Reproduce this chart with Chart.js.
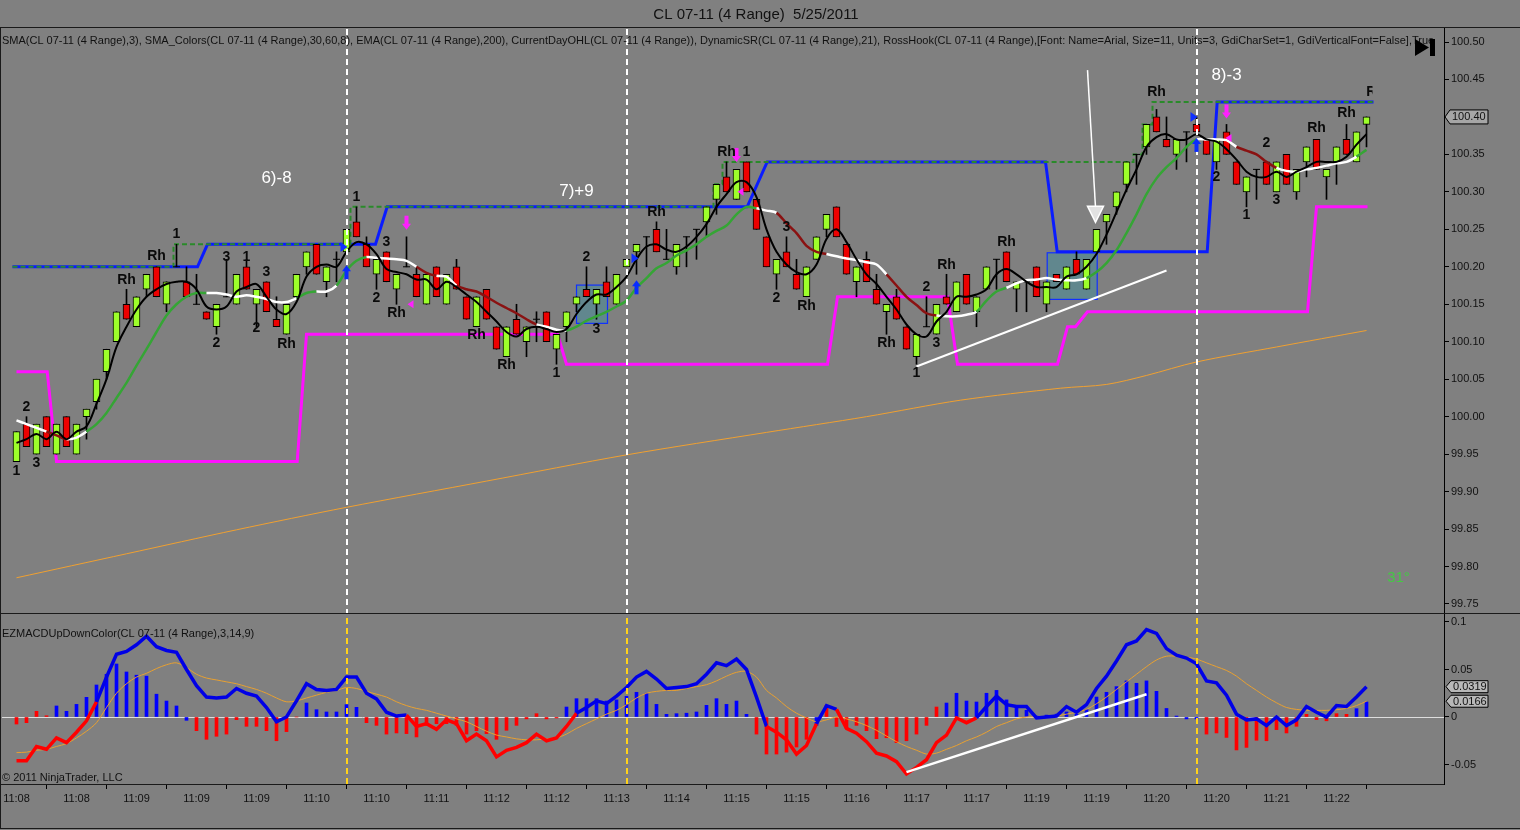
<!DOCTYPE html>
<html><head><meta charset="utf-8">
<script src="https://cdn.jsdelivr.net/npm/chart.js@4.4.0/dist/chart.umd.min.js"></script>
<style>
html,body{margin:0;padding:0;background:#808080;width:1520px;height:830px;overflow:hidden}
canvas{position:absolute;left:0;top:0}
</style></head><body>
<canvas id="p" width="1520" height="830"></canvas>
<canvas id="m" width="1520" height="830"></canvas>
<script>
// ---------------- DATA ----------------
const opens = [99.94,99.99,99.95,100.00,99.95,100.00,99.95,100.00,100.02,100.06,
100.10,100.15,100.12,100.17,100.20,100.15,100.20,100.18,100.15,100.14,
100.12,100.16,100.15,100.20,100.15,100.18,100.13,100.11,100.16,100.20,
100.23,100.18,100.21,100.22,100.26,100.23,100.19,100.22,100.17,100.20,
100.19,100.15,100.20,100.15,100.20,100.16,100.12,100.17,100.12,100.08,
100.13,100.10,100.13,100.14,100.09,100.12,100.15,100.17,100.15,100.18,
100.15,100.20,100.22,100.24,100.25,100.21,100.20,100.24,100.25,100.26,
100.29,100.32,100.29,100.34,100.29,100.24,100.19,100.22,100.19,100.16,
100.21,100.25,100.28,100.23,100.18,100.21,100.17,100.14,100.16,100.12,
100.08,100.12,100.11,100.16,100.14,100.19,100.14,100.17,100.21,100.22,
100.17,100.18,100.20,100.15,100.19,100.17,100.21,100.17,100.22,100.26,
100.28,100.31,100.35,100.36,100.40,100.37,100.35,100.38,100.39,100.37,
100.34,100.38,100.34,100.30,100.33,100.34,100.30,100.35,100.30,100.34,
100.37,100.32,100.34,100.37,100.34,100.39];
const highs = [99.98,100.00,99.99,100.00,99.99,100.00,99.99,100.01,100.05,100.09,
100.14,100.17,100.16,100.19,100.20,100.18,100.23,100.20,100.19,100.14,
100.15,100.21,100.19,100.21,100.17,100.18,100.16,100.15,100.19,100.22,
100.23,100.20,100.22,100.25,100.28,100.24,100.21,100.22,100.19,100.24,
100.20,100.19,100.20,100.19,100.21,100.16,100.16,100.17,100.12,100.12,
100.15,100.12,100.14,100.14,100.11,100.14,100.16,100.20,100.17,100.20,
100.19,100.21,100.23,100.24,100.26,100.25,100.23,100.24,100.25,100.28,
100.31,100.34,100.33,100.34,100.29,100.24,100.21,100.24,100.21,100.20,
100.24,100.27,100.28,100.23,100.20,100.22,100.19,100.15,100.17,100.12,
100.11,100.16,100.15,100.19,100.18,100.19,100.16,100.20,100.21,100.22,
100.18,100.18,100.20,100.18,100.19,100.20,100.22,100.21,100.25,100.27,
100.30,100.34,100.35,100.39,100.41,100.40,100.37,100.38,100.40,100.37,
100.37,100.39,100.34,100.32,100.33,100.34,100.34,100.35,100.33,100.36,
100.37,100.33,100.36,100.39,100.38,100.40];
const lows = [99.94,99.96,99.95,99.96,99.95,99.96,99.95,99.97,100.01,100.05,
100.10,100.13,100.12,100.16,100.16,100.14,100.20,100.16,100.15,100.13,
100.11,100.16,100.15,100.17,100.12,100.14,100.12,100.11,100.16,100.19,
100.19,100.16,100.18,100.22,100.24,100.20,100.17,100.18,100.15,100.20,
100.16,100.15,100.16,100.15,100.17,100.13,100.12,100.13,100.09,100.08,
100.11,100.08,100.10,100.10,100.07,100.10,100.14,100.16,100.13,100.16,
100.15,100.20,100.19,100.20,100.22,100.21,100.19,100.20,100.21,100.24,
100.27,100.30,100.29,100.30,100.25,100.20,100.17,100.20,100.17,100.16,
100.21,100.24,100.24,100.19,100.16,100.18,100.15,100.11,100.13,100.09,
100.07,100.12,100.11,100.15,100.14,100.15,100.12,100.17,100.17,100.18,
100.14,100.14,100.16,100.14,100.18,100.17,100.19,100.17,100.22,100.23,
100.27,100.30,100.31,100.35,100.38,100.36,100.33,100.34,100.38,100.35,
100.33,100.35,100.31,100.28,100.29,100.31,100.30,100.31,100.29,100.32,
100.33,100.29,100.31,100.35,100.34,100.36];
const closes = [99.98,99.96,99.99,99.96,99.99,99.96,99.99,100.01,100.05,100.09,
100.14,100.13,100.16,100.19,100.16,100.18,100.20,100.16,100.15,100.13,
100.15,100.16,100.19,100.17,100.17,100.14,100.12,100.15,100.19,100.22,
100.19,100.20,100.21,100.25,100.24,100.20,100.21,100.18,100.19,100.20,
100.16,100.19,100.16,100.19,100.17,100.13,100.16,100.13,100.09,100.12,
100.11,100.12,100.13,100.10,100.11,100.14,100.16,100.16,100.17,100.16,
100.19,100.21,100.23,100.24,100.22,100.21,100.23,100.24,100.25,100.28,
100.31,100.30,100.33,100.30,100.25,100.20,100.21,100.20,100.17,100.20,
100.24,100.27,100.24,100.19,100.20,100.18,100.15,100.15,100.13,100.09,
100.11,100.12,100.15,100.15,100.18,100.15,100.16,100.20,100.21,100.18,
100.18,100.18,100.16,100.18,100.18,100.20,100.19,100.21,100.25,100.27,
100.30,100.34,100.35,100.39,100.38,100.36,100.37,100.38,100.38,100.35,
100.37,100.35,100.31,100.32,100.33,100.31,100.34,100.31,100.33,100.36,
100.33,100.33,100.36,100.35,100.38,100.40];
// SMA(3) black line
const sma3 = [99.965,99.97,99.977,99.97,99.98,99.97,99.98,99.987,100.017,100.05,
100.093,100.12,100.143,100.16,100.17,100.177,100.18,100.18,100.17,100.147,
100.143,100.147,100.167,100.173,100.177,100.16,100.143,100.137,100.153,100.187,
100.20,100.203,100.20,100.22,100.233,100.23,100.217,100.197,100.193,100.19,
100.183,100.183,100.17,100.18,100.173,100.163,100.153,100.14,100.127,100.113,
100.107,100.117,100.12,100.117,100.113,100.117,100.137,100.153,100.163,100.163,
100.173,100.187,100.21,100.227,100.23,100.223,100.22,100.227,100.24,100.257,
100.28,100.297,100.313,100.313,100.293,100.25,100.22,100.203,100.193,100.19,
100.203,100.237,100.25,100.233,100.21,100.19,100.177,100.16,100.143,100.123,
100.11,100.107,100.127,100.14,100.16,100.16,100.163,100.17,100.19,100.197,
100.19,100.18,100.173,100.173,100.173,100.187,100.19,100.20,100.217,100.243,
100.273,100.303,100.33,100.36,100.373,100.377,100.37,100.37,100.377,100.37,
100.367,100.357,100.343,100.327,100.32,100.32,100.327,100.32,100.327,100.333,
100.34,100.34,100.34,100.347,100.363,100.377];
// SMA_Colors line
const smaColors = [99.995,99.99,99.985,99.98,99.975,99.97,99.972,99.98,99.99,100.005,
100.025,100.045,100.068,100.09,100.113,100.135,100.15,100.16,100.165,100.165,
100.165,100.163,100.16,100.162,100.16,100.157,100.153,100.153,100.158,100.165,
100.167,100.167,100.175,100.195,100.208,100.213,100.212,100.211,100.21,100.208,
100.2,100.192,100.188,100.187,100.175,100.17,100.167,100.16,100.152,100.145,
100.138,100.13,100.123,100.12,100.116,100.115,100.12,100.128,100.134,100.14,
100.147,100.155,100.172,100.185,100.198,100.205,100.215,100.222,100.23,100.24,
100.248,100.255,100.27,100.28,100.278,100.275,100.272,100.258,100.245,100.228,
100.22,100.217,100.214,100.211,100.209,100.206,100.203,100.19,100.175,100.16,
100.149,100.138,100.135,100.134,100.134,100.136,100.14,100.155,100.167,100.172,
100.178,100.182,100.183,100.185,100.183,100.182,100.182,100.185,100.193,100.205,
100.222,100.245,100.27,100.297,100.318,100.333,100.345,100.36,100.37,100.37,
100.37,100.369,100.36,100.355,100.35,100.34,100.332,100.328,100.327,100.33,
100.332,100.335,100.338,100.34,100.347,100.356];
const smaColorRuns = [['w',3],['r',2],['w',2],['g',12],['w',9],['g',2],['w',2],['g',3],['w',5],['r',2],['w',2],['r',8],['w',3],['g',19],['w',2],['r',5],['w',6],['r',5],['w',4],['g',3],['w',8],['g',11],['w',4],['r',4],['w',8],['g',2]];
// EMA(200)
const emaBars = [0,11,22,33,47,61,75,85,94.4,104.4,109,113,118,126,135];
const emaVals = [99.785,99.817,99.849,99.879,99.914,99.949,99.979,100.00,100.022,100.038,100.043,100.055,100.073,100.093,100.115];
// DynamicSR resistance (blue) / support (magenta)
const resBars = [-0.4,18.1,19.1,35.9,37.07,73.07,75.07,102.9,104.07,119.07,120.07,135.7];
const resVals = [100.20,100.20,100.23,100.23,100.28,100.28,100.34,100.34,100.22,100.22,100.42,100.42];
const supBars = [0,3.07,4.0,28.07,29.0,54.1,55.0,81.1,82.1,93.1,94.1,104.1,105.1,105.9,107.1,129.1,130.0,135.1];
const supVals = [100.06,100.06,99.94,99.94,100.11,100.11,100.07,100.07,100.16,100.16,100.07,100.07,100.12,100.12,100.14,100.14,100.28,100.28];
// CurrentDayOHL high (dashed green, stepped)
const dayHighBars = [-0.4,15.7,33.4,69.7,70.6,111.7,112.6,113.6,135.7];
const dayHighVals = [100.20,100.23,100.28,100.31,100.34,100.35,100.39,100.42,100.42];
// RossHook labels [bar, price, text]
const hookLabels = [[1,100.013,'2'],[0,99.927,'1'],[2,99.938,'3'],[11,100.182,'Rh'],[14,100.214,'Rh'],[16,100.244,'1'],
[21,100.213,'3'],[23,100.213,'1'],[25,100.193,'3'],[20,100.098,'2'],[24,100.118,'2'],[27,100.097,'Rh'],
[34,100.293,'1'],[37,100.233,'3'],[36,100.158,'2'],[38,100.138,'Rh'],[46,100.109,'Rh'],[49,100.069,'Rh'],[54,100.058,'1'],
[57,100.213,'2'],[58,100.117,'3'],[64,100.273,'Rh'],[71,100.353,'Rh'],[73,100.353,'1'],[77,100.253,'3'],[76,100.158,'2'],
[79,100.148,'Rh'],[87,100.098,'Rh'],[91,100.173,'2'],[90,100.058,'1'],[92,100.098,'3'],[93,100.202,'Rh'],[99,100.233,'Rh'],
[114,100.433,'Rh'],[120,100.32,'2'],[123,100.269,'1'],[125,100.365,'2'],[126,100.289,'3'],[130,100.385,'Rh'],[133,100.405,'Rh'],[135.9,100.433,'Rh']];
const labelClipBar = 135.6;
const tradeNotes = [[26,100.318,'6)-8'],[56,100.301,'7)+9'],[121,100.456,'8)-3']];
const upArrowsBlue = [[33,100.202],[62,100.182],[118,100.372]];
const downArrowsMag = [[39,100.2495],[72,100.34],[121,100.398]];
const smallMagMarks = [[39.4,100.15],[72.4,100.30],[121.2,100.372]];
const smallBlueMarks = [[61.8,100.2115],[117.7,100.40],[32.7,100.2265]];
const hookBoxes = [[56.0,59.1,100.1756,100.1245],[103.07,108.07,100.2187,100.1565]];
const sessionBars = [33,61,118];
const priceTrend = [[90,100.067],[115,100.195]];
const bigArrow = [[107.1,100.4625],[107.9,100.2594]];
const angleNote = [138.2,99.7845,'31°'];
const priceTicks = [100.50,100.45,100.40,100.35,100.30,100.25,100.20,100.15,100.10,100.05,100.00,99.95,99.90,99.85,99.80,99.75];
// MACD panel
const macd = [-0.046,-0.046,-0.031,-0.034,-0.022,-0.027,-0.016,-0.004,0.016,0.042,
0.066,0.069,0.076,0.085,0.074,0.070,0.068,0.050,0.033,0.021,
0.020,0.021,0.030,0.025,0.022,0.010,-0.005,0.000,0.017,0.035,
0.029,0.028,0.029,0.042,0.042,0.025,0.019,0.005,0.001,0.002,
-0.010,-0.007,-0.013,-0.003,-0.007,-0.025,-0.018,-0.025,-0.042,-0.035,
-0.032,-0.027,-0.018,-0.025,-0.022,-0.010,0.004,0.010,0.017,0.014,
0.022,0.031,0.042,0.048,0.040,0.030,0.031,0.032,0.035,0.045,
0.057,0.054,0.061,0.050,0.021,-0.010,-0.016,-0.024,-0.039,-0.030,
-0.007,0.012,0.008,-0.012,-0.017,-0.026,-0.038,-0.041,-0.047,-0.060,
-0.053,-0.045,-0.027,-0.019,-0.001,-0.006,-0.001,0.011,0.022,0.013,
0.011,0.011,-0.001,0.000,0.001,0.011,0.005,0.013,0.030,0.043,
0.059,0.076,0.080,0.092,0.088,0.072,0.065,0.062,0.056,0.038,
0.036,0.023,0.003,-0.003,-0.002,-0.009,0.000,-0.009,-0.003,0.011,
0.005,0.000,0.012,0.011,0.021,0.0319];
const signal = [-0.0375,-0.037,-0.035,-0.034,-0.031,-0.028,-0.022,-0.015,-0.006,0.010,
0.025,0.035,0.042,0.046,0.051,0.055,0.057,0.052,0.045,0.041,
0.039,0.037,0.035,0.032,0.029,0.025,0.020,0.016,0.017,0.020,
0.023,0.026,0.028,0.031,0.030,0.027,0.024,0.021,0.016,0.012,
0.009,0.007,0.004,0.001,-0.002,-0.005,-0.010,-0.015,-0.019,-0.021,
-0.023,-0.024,-0.024,-0.023,-0.022,-0.018,-0.012,-0.007,-0.002,0.003,
0.007,0.013,0.020,0.025,0.027,0.028,0.028,0.030,0.032,0.034,
0.038,0.043,0.047,0.048,0.042,0.028,0.020,0.011,0.004,-0.001,
-0.005,-0.003,0.000,-0.002,-0.005,-0.009,-0.014,-0.020,-0.026,-0.031,
-0.035,-0.039,-0.038,-0.034,-0.030,-0.025,-0.021,-0.016,-0.010,-0.006,
-0.002,0.000,0.000,0.000,0.001,0.003,0.005,0.008,0.014,0.021,
0.029,0.037,0.045,0.053,0.060,0.064,0.064,0.063,0.061,0.057,
0.053,0.049,0.043,0.035,0.028,0.021,0.015,0.010,0.008,0.007,
0.007,0.007,0.0077,0.009,0.012,0.0166];
const hist = [-0.0074,-0.006,0.006,0.0013,0.0116,0.006,0.0133,0.0207,0.0337,0.045,
0.0558,0.0474,0.044,0.043,0.024,0.0168,0.0116,-0.0035,-0.0144,-0.0235,
-0.0203,-0.018,-0.0028,-0.0098,-0.0098,-0.0144,-0.025,-0.0154,0,0.0147,
0.0077,0.0053,0.0053,0.013,0.0102,-0.006,-0.0088,-0.018,-0.0168,-0.0175,
-0.021,-0.0088,-0.007,-0.007,-0.0088,-0.018,-0.0144,-0.0175,-0.0235,-0.014,
-0.0088,-0.002,0.0035,-0.002,-0.001,0.0105,0.0193,0.0193,0.0193,0.0168,
0.018,0.0218,0.026,0.025,0.0133,0.0028,0.0035,0.004,0.0053,0.0123,
0.0193,0.0133,0.0168,0.0028,-0.018,-0.039,-0.039,-0.037,-0.0316,-0.0235,
-0.0088,0.0123,-0.010,-0.012,-0.0088,-0.0144,-0.0228,-0.0218,-0.027,-0.025,
-0.018,-0.0088,0.0105,0.0147,0.025,0.0168,0.0158,0.025,0.028,0.018,
0.0123,0.007,0.001,0.002,0.003,0.0053,0.003,0.0081,0.021,0.026,
0.032,0.038,0.0355,0.038,0.027,0.009,0.001,-0.002,-0.002,-0.018,
-0.0168,-0.0215,-0.0347,-0.032,-0.0245,-0.025,-0.0133,-0.0168,-0.0098,0.0028,
-0.0028,-0.004,0.0035,0.0028,0.0088,0.0158];
const macdColorRuns = [['r',8],['b',31],['r',17],['b',19],['r',5],['b',2],['r',14],['b',40]];
const histColorRuns = [['r',4],['b',14],['r',11],['b',6],['r',20],['b',19],['r',6],['b',1],['r',12],['b',26],['r',15],['b',2]];
const macdTrend = [[89,-0.058],[113,0.024]];
const macdTicks = [0.1,0.05,0,-0.05];
const xTickBars = [0,6,12,18,24,30,36,42,48,54,60,66,72,78,84,90,96,102,108,114,120,126,132];
const timeLabels = ['11:08','11:08','11:09','11:09','11:09','11:10','11:10','11:11','11:12','11:12','11:13','11:14','11:15','11:15','11:16','11:17','11:17','11:19','11:19','11:20','11:20','11:21','11:22'];

// ---------------- STYLE ----------------
const FONT = '"Liberation Sans", Arial, sans-serif';
Chart.defaults.font.family = FONT;
const UP = '#9dff2a', DN = '#ee0000';
const lineCol = {w:'#ffffff', r:'#8a1212', g:'#35a535', b:'#0000e6'};
const expand = runs => runs.map(([c,n]) => c.repeat(n)).join('');
const smaCol = expand(smaColorRuns), macdCol = expand(macdColorRuns), histCol = expand(histColorRuns);
const N = closes.length;
const idx = Array.from({length:N}, (_, i) => i);
const pts = (xs, ys) => xs.map((x, i) => ({x, y: ys[i]}));
const X_MIN = -1.45, X_MAX = 142.75;

function padFix(s){ s.paddingLeft = 0; s.paddingRight = 0; s.paddingTop = 0; s.paddingBottom = 0; }

// ---------------- PRICE PANEL PLUGIN ----------------
const pricePlugin = {
  id: 'pricePlugin',
  beforeDatasetsDraw(chart) {
    const {ctx, scales:{x, y}} = chart;
    ctx.save();
    hookBoxes.forEach(([b0, b1, p0, p1]) => {
      const l = x.getPixelForValue(b0), r = x.getPixelForValue(b1);
      const t = y.getPixelForValue(p0), b = y.getPixelForValue(p1);
      ctx.fillStyle = 'rgba(40,150,170,0.35)';
      ctx.fillRect(l, t, r - l, b - t);
      ctx.strokeStyle = '#1030ff'; ctx.lineWidth = 1.2;
      ctx.strokeRect(l, t, r - l, b - t);
    });
    ctx.restore();
  },
  afterDatasetsDraw(chart) {
    const {ctx, chartArea, scales:{x, y}} = chart;
    ctx.save();
    // session separators
    ctx.strokeStyle = '#ffffff'; ctx.lineWidth = 2; ctx.setLineDash([6,4]);
    sessionBars.forEach(b => {
      const px = Math.round(x.getPixelForValue(b));
      ctx.beginPath(); ctx.moveTo(px, chartArea.top + 2); ctx.lineTo(px, chartArea.bottom); ctx.stroke();
    });
    ctx.setLineDash([]);
    // trend line
    ctx.strokeStyle = '#ffffff'; ctx.lineWidth = 2;
    ctx.beginPath();
    ctx.moveTo(x.getPixelForValue(priceTrend[0][0]), y.getPixelForValue(priceTrend[0][1]));
    ctx.lineTo(x.getPixelForValue(priceTrend[1][0]), y.getPixelForValue(priceTrend[1][1]));
    ctx.stroke();
    // big white arrow
    const ax0 = x.getPixelForValue(bigArrow[0][0]), ay0 = y.getPixelForValue(bigArrow[0][1]);
    const ax1 = x.getPixelForValue(bigArrow[1][0]), ay1 = y.getPixelForValue(bigArrow[1][1]);
    ctx.lineWidth = 1.5;
    ctx.beginPath(); ctx.moveTo(ax0, ay0); ctx.lineTo(ax1, ay1 - 15); ctx.stroke();
    ctx.beginPath(); ctx.moveTo(ax1 - 8, ay1 - 16); ctx.lineTo(ax1 + 8, ay1 - 16); ctx.lineTo(ax1, ay1); ctx.closePath();
    ctx.fillStyle = 'rgba(235,235,235,0.9)'; ctx.fill(); ctx.strokeStyle = '#ffffff'; ctx.stroke();
    // blue up arrows
    ctx.fillStyle = '#0a2cff';
    upArrowsBlue.forEach(([b, p]) => {
      const cx = x.getPixelForValue(b), ty = y.getPixelForValue(p);
      ctx.beginPath(); ctx.moveTo(cx, ty); ctx.lineTo(cx - 4.5, ty + 6); ctx.lineTo(cx + 4.5, ty + 6); ctx.closePath(); ctx.fill();
      ctx.fillRect(cx - 2, ty + 5, 4, 9);
    });
    // magenta down arrows
    ctx.fillStyle = '#ff20ff';
    downArrowsMag.forEach(([b, p]) => {
      const cx = x.getPixelForValue(b), by = y.getPixelForValue(p);
      ctx.beginPath(); ctx.moveTo(cx, by); ctx.lineTo(cx - 4.5, by - 6); ctx.lineTo(cx + 4.5, by - 6); ctx.closePath(); ctx.fill();
      ctx.fillRect(cx - 2, by - 14, 4, 9);
    });
    smallMagMarks.forEach(([b, p]) => {
      const cx = x.getPixelForValue(b), cy = y.getPixelForValue(p);
      ctx.beginPath(); ctx.moveTo(cx - 3, cy); ctx.lineTo(cx + 3, cy - 4); ctx.lineTo(cx + 3, cy + 4); ctx.closePath(); ctx.fill();
    });
    ctx.fillStyle = '#1030ff';
    smallBlueMarks.forEach(([b, p]) => {
      const cx = x.getPixelForValue(b), cy = y.getPixelForValue(p);
      ctx.beginPath(); ctx.moveTo(cx + 4, cy); ctx.lineTo(cx - 3, cy - 5); ctx.lineTo(cx - 3, cy + 5); ctx.closePath(); ctx.fill();
    });
    // hook labels (clipped at the last bar, as in the original)
    ctx.save();
    ctx.beginPath(); ctx.rect(chartArea.left, chartArea.top, x.getPixelForValue(labelClipBar) - chartArea.left, chartArea.bottom - chartArea.top); ctx.clip();
    ctx.fillStyle = '#0a0a0a'; ctx.font = 'bold 14px ' + FONT;
    ctx.textAlign = 'center'; ctx.textBaseline = 'middle';
    hookLabels.forEach(([b, p, t]) => ctx.fillText(t, x.getPixelForValue(b), y.getPixelForValue(p)));
    ctx.restore();
    // trade notes
    ctx.textAlign = 'center'; ctx.textBaseline = 'middle';
    ctx.fillStyle = '#ffffff'; ctx.font = '17px ' + FONT;
    tradeNotes.forEach(([b, p, t]) => ctx.fillText(t, x.getPixelForValue(b), y.getPixelForValue(p)));
    ctx.fillStyle = '#44c844'; ctx.font = '15px ' + FONT;
    ctx.fillText(angleNote[2], x.getPixelForValue(angleNote[0]), y.getPixelForValue(angleNote[1]));
    ctx.restore();
  },
  afterDraw(chart) {
    const {ctx, chartArea, scales:{y}} = chart;
    ctx.save();
    ctx.fillStyle = '#111'; ctx.textBaseline = 'alphabetic';
    ctx.font = '15px ' + FONT; ctx.textAlign = 'center';
    ctx.fillText('CL 07-11 (4 Range)  5/25/2011', 756, 19);
    ctx.font = '11px ' + FONT; ctx.textAlign = 'left';
    ctx.fillText('SMA(CL 07-11 (4 Range),3), SMA_Colors(CL 07-11 (4 Range),30,60,8), EMA(CL 07-11 (4 Range),200), CurrentDayOHL(CL 07-11 (4 Range)), DynamicSR(CL 07-11 (4 Range),21), RossHook(CL 07-11 (4 Range),[Font: Name=Arial, Size=11, Units=3, GdiCharSet=1, GdiVerticalFont=False],True', 2, 44, 1442);
    // play-to-end icon
    ctx.fillStyle = '#000';
    ctx.beginPath(); ctx.moveTo(1415, 39); ctx.lineTo(1415, 56); ctx.lineTo(1429, 47.5); ctx.closePath(); ctx.fill();
    ctx.fillRect(1430, 39, 5, 17);
    // last price marker
    const last = closes[N - 1], ly = y.getPixelForValue(last), r = chartArea.right;
    ctx.beginPath();
    ctx.moveTo(r + 1, ly); ctx.lineTo(r + 6, ly - 7); ctx.lineTo(r + 44, ly - 7); ctx.lineTo(r + 44, ly + 7); ctx.lineTo(r + 6, ly + 7); ctx.closePath();
    ctx.fillStyle = '#a6a6a6'; ctx.fill(); ctx.strokeStyle = '#000'; ctx.lineWidth = 1; ctx.stroke();
    ctx.fillStyle = '#111'; ctx.font = '11px ' + FONT; ctx.textBaseline = 'middle';
    ctx.fillText(last.toFixed(2), r + 8, ly + 0.5);
    ctx.restore();
  }
};

new Chart(document.getElementById('p'), {
  type: 'line',
  data: { datasets: [
    { type:'line', data: idx.map(i => ({x:i, y:sma3[i]})), borderColor:'#000', borderWidth:2, pointRadius:0, tension:0.35, order:1 },
    { type:'line', data: idx.map(i => ({x:i, y:smaColors[i]})), borderWidth:2.5, pointRadius:0, tension:0.3, order:2,
      segment:{ borderColor: c => lineCol[smaCol[c.p0DataIndex]] } , borderColor:'#fff'},
    { type:'line', data: idx.filter(i => opens[i] === closes[i]).map(i => ({x:i, y:opens[i]})), showLine:false,
      pointStyle:'line', pointRadius:3.5, borderColor:'#000', borderWidth:1, order:3 },
    { type:'bar', data: idx.map(i => ({x:i, y:[opens[i], closes[i]]})), barThickness:7, grouped:false,
      backgroundColor: idx.map(i => closes[i] > opens[i] ? UP : (closes[i] < opens[i] ? DN : 'rgba(0,0,0,0)')),
      borderColor:'#000', borderWidth:1, borderSkipped:false, order:4 },
    { type:'bar', data: idx.map(i => ({x:i, y:[lows[i], highs[i]]})), barThickness:1, grouped:false,
      backgroundColor:'#000', borderWidth:0, order:5 },
    { type:'line', data: pts(dayHighBars, dayHighVals), stepped:'before', borderColor:'#2a8a2a', borderWidth:2, borderDash:[5,3], pointRadius:0, order:6 },
    { type:'line', data: pts(resBars, resVals), borderColor:'#0a1cff', borderWidth:3, pointRadius:0, tension:0, order:7 },
    { type:'line', data: pts(supBars, supVals), borderColor:'#ff10ff', borderWidth:3, pointRadius:0, tension:0, order:8 },
    { type:'line', data: pts(emaBars, emaVals), borderColor:'#f0a030', borderWidth:1, pointRadius:0, tension:0.3, order:9 }
  ]},
  options: {
    responsive:false, animation:false, devicePixelRatio:1,
    layout:{ autoPadding:false, padding:{ left:2, right:0, top:27, bottom:216 } },
    plugins:{ legend:{display:false}, tooltip:{enabled:false} },
    scales:{
      x:{ type:'linear', min:X_MIN, max:X_MAX, display:false, offset:false },
      y:{ type:'linear', position:'right', min:99.73665, max:100.52002, beginAtZero:false,
          afterFit: s => { s.width = 76; padFix(s); },
          afterBuildTicks: s => { s.ticks = priceTicks.map(v => ({value:v})); },
          ticks:{ callback: v => Number(v).toFixed(2), color:'#111', font:{size:11}, padding:2, autoSkip:false },
          grid:{ drawOnChartArea:false, color:'#000', tickLength:5 },
          border:{ display:true, color:'#000' } }
    }
  },
  plugins:[pricePlugin]
});

// ---------------- MACD PANEL ----------------
const macdPlugin = {
  id:'macdPlugin',
  beforeDatasetsDraw(chart) {
    const {ctx, chartArea, scales:{y}} = chart;
    ctx.save();
    const zy = Math.round(y.getPixelForValue(0)) + 0.5;
    ctx.strokeStyle = '#dedede'; ctx.lineWidth = 1;
    ctx.beginPath(); ctx.moveTo(chartArea.left, zy); ctx.lineTo(chartArea.right, zy); ctx.stroke();
    ctx.restore();
  },
  afterDatasetsDraw(chart) {
    const {ctx, chartArea, scales:{x, y}} = chart;
    ctx.save();
    ctx.strokeStyle = '#ffd21a'; ctx.lineWidth = 2; ctx.setLineDash([6,4]);
    sessionBars.forEach(b => {
      const px = Math.round(x.getPixelForValue(b));
      ctx.beginPath(); ctx.moveTo(px, chartArea.top + 4); ctx.lineTo(px, chartArea.bottom); ctx.stroke();
    });
    ctx.setLineDash([]);
    ctx.strokeStyle = '#ffffff'; ctx.lineWidth = 2.5;
    ctx.beginPath();
    ctx.moveTo(x.getPixelForValue(macdTrend[0][0]), y.getPixelForValue(macdTrend[0][1]));
    ctx.lineTo(x.getPixelForValue(macdTrend[1][0]), y.getPixelForValue(macdTrend[1][1]));
    ctx.stroke();
    ctx.restore();
  },
  afterDraw(chart) {
    const {ctx, chartArea, scales:{y}} = chart;
    ctx.save();
    ctx.fillStyle = '#111'; ctx.font = '11px ' + FONT; ctx.textAlign = 'left'; ctx.textBaseline = 'alphabetic';
    ctx.fillText('EZMACDUpDownColor(CL 07-11 (4 Range),3,14,9)', 2, 637, 255);
    ctx.fillText('\u00A9 2011 NinjaTrader, LLC', 2, 781, 126);
    const r = chartArea.right;
    [macd[N - 1], signal[N - 1]].forEach(v => {
      const ly = y.getPixelForValue(v);
      ctx.beginPath();
      ctx.moveTo(r + 2, ly); ctx.lineTo(r + 7, ly - 6); ctx.lineTo(r + 44, ly - 6); ctx.lineTo(r + 44, ly + 6); ctx.lineTo(r + 7, ly + 6); ctx.closePath();
      ctx.fillStyle = '#b8b8b8'; ctx.fill(); ctx.strokeStyle = '#000'; ctx.lineWidth = 1; ctx.stroke();
      ctx.fillStyle = '#111'; ctx.textBaseline = 'middle';
      ctx.fillText(v.toFixed(4), r + 9, ly + 0.5);
    });
    // panel frame lines
    ctx.strokeStyle = '#1a1a1a'; ctx.lineWidth = 1;
    const h = (yy, x0, x1) => { ctx.beginPath(); ctx.moveTo(x0, yy); ctx.lineTo(x1, yy); ctx.stroke(); };
    h(27.5, 0, 1520); h(613.5, 0, 1520); h(784.5, 0, r); h(828.5, 0, 1520);
    ctx.beginPath(); ctx.moveTo(0.5, 27); ctx.lineTo(0.5, 829); ctx.stroke();
    ctx.restore();
  }
};

new Chart(document.getElementById('m'), {
  type:'line',
  data:{ datasets:[
    { type:'line', data: idx.map(i => ({x:i, y:macd[i]})), borderWidth:3.5, pointRadius:0, tension:0, order:1,
      borderColor:'#0000e6', segment:{ borderColor: c => macdCol[c.p0DataIndex] === 'b' ? '#0000e6' : '#ff0000' } },
    { type:'line', data: idx.map(i => ({x:i, y:signal[i]})), borderColor:'#e8a030', borderWidth:1, pointRadius:0, tension:0.3, order:2 },
    { type:'bar', data: idx.map(i => ({x:i, y:hist[i]})), barThickness:3, grouped:false,
      backgroundColor: idx.map(i => histCol[i] === 'b' ? '#0000ff' : '#ff0000'), borderWidth:0, order:3 }
  ]},
  options:{
    responsive:false, animation:false, devicePixelRatio:1,
    layout:{ autoPadding:false, padding:{ left:2, right:0, top:614, bottom:0 } },
    plugins:{ legend:{display:false}, tooltip:{enabled:false} },
    scales:{
      x:{ type:'linear', min:X_MIN, max:X_MAX, offset:false,
          afterFit: s => { s.height = 46; padFix(s); },
          afterBuildTicks: s => { s.ticks = xTickBars.map(v => ({value:v})); },
          ticks:{ callback: (v, i) => timeLabels[i], color:'#111', font:{size:11}, maxRotation:0, autoSkip:false, padding:3 },
          grid:{ drawOnChartArea:false, color:'#000', tickLength:5 },
          border:{ display:true, color:'#000' } },
      y:{ type:'linear', position:'right', min:-0.07053, max:0.10842, beginAtZero:false,
          afterFit: s => { s.width = 76; padFix(s); },
          afterBuildTicks: s => { s.ticks = macdTicks.map(v => ({value:v})); },
          ticks:{ callback: v => String(v), color:'#111', font:{size:11}, padding:2, autoSkip:false },
          grid:{ drawOnChartArea:false, color:'#000', tickLength:5 },
          border:{ display:true, color:'#000' } }
    }
  },
  plugins:[macdPlugin]
});
</script></body></html>
